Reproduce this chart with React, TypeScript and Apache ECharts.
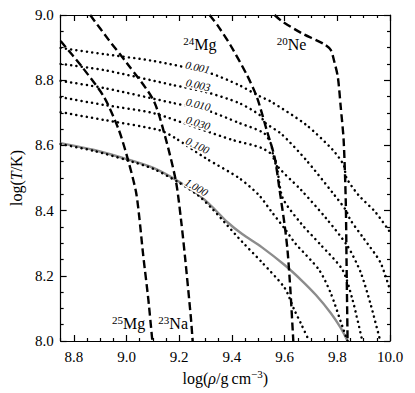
import React, { useEffect, useRef } from "react";
import * as echarts from "echarts";

// ---------- data (log rho, log T) ----------
const xMajorTicks = [8.8, 9.0, 9.2, 9.4, 9.6, 9.8, 10.0];
const xMinorTicks = [8.75, 8.85, 8.9, 8.95, 9.05, 9.1, 9.15, 9.25, 9.3, 9.35, 9.45, 9.5, 9.55, 9.65, 9.7, 9.75, 9.85, 9.9, 9.95];

// dashed: onset lines of electron captures
const mg25Line = [[8.75, 8.92], [8.832, 8.84], [8.915, 8.748], [8.971, 8.647], [9.008, 8.549], [9.038, 8.448], [9.064, 8.258], [9.083, 8.126], [9.098, 8.0]];
const na23Line = [[8.862, 9.0], [8.933, 8.923], [9.001, 8.853], [9.102, 8.739], [9.15, 8.617], [9.188, 8.488], [9.207, 8.371], [9.222, 8.258], [9.244, 8.074], [9.251, 8.0]];
const mg24Line = [[9.315, 9.0], [9.345, 8.969], [9.394, 8.908], [9.457, 8.816], [9.495, 8.748], [9.532, 8.647], [9.562, 8.564], [9.581, 8.463], [9.6, 8.356], [9.611, 8.279], [9.622, 8.156], [9.633, 8.0]];
const ne20Line = [[9.562, 9.0], [9.588, 8.982], [9.663, 8.945], [9.749, 8.911], [9.775, 8.893], [9.787, 8.862], [9.802, 8.81], [9.813, 8.718], [9.824, 8.617], [9.832, 8.433], [9.835, 8.248], [9.839, 8.0]];

// dotted: contours
const c0001 = [[8.75, 8.899], [8.915, 8.88], [9.102, 8.859], [9.315, 8.822], [9.427, 8.785], [9.495, 8.755], [9.551, 8.733], [9.682, 8.663], [9.783, 8.586], [9.824, 8.54], [9.835, 8.5], [9.88, 8.448], [9.944, 8.396], [10.0, 8.334]];
const c0003 = [[8.75, 8.85], [8.915, 8.831], [9.177, 8.785], [9.3, 8.764], [9.427, 8.73], [9.506, 8.693], [9.525, 8.67], [9.588, 8.635], [9.682, 8.555], [9.783, 8.454], [9.832, 8.402], [9.85, 8.371], [9.899, 8.316], [9.963, 8.242], [10.0, 8.156]];
const c0010 = [[8.75, 8.798], [8.915, 8.776], [9.177, 8.73], [9.3, 8.709], [9.427, 8.669], [9.521, 8.638], [9.548, 8.605], [9.565, 8.545], [9.663, 8.463], [9.757, 8.377], [9.839, 8.291], [9.888, 8.212], [9.925, 8.117], [9.963, 8.0]];
const c0030 = [[8.75, 8.748], [8.915, 8.724], [9.102, 8.699], [9.27, 8.653], [9.401, 8.617], [9.513, 8.592], [9.562, 8.562], [9.592, 8.44], [9.663, 8.36], [9.738, 8.294], [9.82, 8.218], [9.858, 8.126], [9.895, 8.0]];
const c0100 = [[8.75, 8.702], [8.915, 8.678], [9.124, 8.647], [9.184, 8.623], [9.3, 8.561], [9.427, 8.5], [9.502, 8.448], [9.551, 8.396], [9.6, 8.345], [9.64, 8.3], [9.731, 8.218], [9.775, 8.147], [9.82, 8.043], [9.839, 8.0]];
const c1000 = [[8.75, 8.604], [8.877, 8.583], [9.001, 8.555], [9.102, 8.528], [9.195, 8.488], [9.27, 8.448], [9.326, 8.405], [9.382, 8.355], [9.439, 8.304], [9.513, 8.242], [9.6, 8.163], [9.637, 8.095], [9.663, 8.052], [9.693, 8.0]];

// grey solid curve
const greyLine = [[8.75, 8.607], [8.877, 8.586], [9.001, 8.558], [9.102, 8.531], [9.195, 8.491], [9.27, 8.451], [9.326, 8.411], [9.382, 8.365], [9.439, 8.328], [9.513, 8.288], [9.6, 8.233], [9.663, 8.187], [9.719, 8.141], [9.775, 8.086], [9.813, 8.04], [9.839, 8.0]];

// contour label texts and anchors
const contourLabels = ["0.001", "0.003", "0.010", "0.030", "0.100", "1.000"];
const contourLabelAt = [[9.27, 8.84], [9.272, 8.786], [9.272, 8.726], [9.272, 8.669], [9.27, 8.6], [9.266, 8.472]];
const contourLabelAngle = [-13, -13, -14, -17, -26, -30];

// species labels
const speciesMass = ["24", "20", "25", "23"];
const speciesElem = ["Mg", "Ne", "Mg", "Na"];
const speciesAt = [[9.278, 8.911], [9.626, 8.911], [9.008, 8.055], [9.177, 8.055]];

const FONT = "Liberation Serif";

export default function App() {
  const ref = useRef<HTMLDivElement>(null);
  useEffect(() => {
    if (!ref.current) return;
    const chart = echarts.init(ref.current, null, { renderer: "svg" });
    const dashed = { color: "#000", width: 2.4, type: [8, 4] as any };
    const dotted = { color: "#000", width: 2.5, type: [0.1, 5.2] as any, cap: "round" as any };
    const lineSeries = (data: number[][], ls: any, z = 2) => ({
      type: "line",
      data,
      showSymbol: false,
      symbol: "none",
      smooth: 0.25,
      lineStyle: ls,
      silent: true,
      z,
    });
    const textStyleBase = { fontFamily: FONT, color: "#000" };
    const tickStyle = { color: "#000", width: 1.2 };
    const option: any = {
      animation: false,
      grid: { left: 56, top: 15, right: 25, bottom: 52, containLabel: false },
      xAxis: [
        {
          type: "value", min: 8.75, max: 10, position: "bottom",
          axisLine: { show: true, onZero: false, lineStyle: { color: "#000", width: 1.2 } },
          axisTick: { show: true, inside: true, length: 6, customValues: xMajorTicks, lineStyle: tickStyle },
          axisLabel: { customValues: xMajorTicks, formatter: (v: number) => v.toFixed(1), ...textStyleBase, fontSize: 15, margin: 8 },
          splitLine: { show: false },
          name: "log({i|ρ}/g\u2009cm{s|−3})",
          nameLocation: "middle",
          nameGap: 24,
          nameTextStyle: {
            ...textStyleBase, fontSize: 16,
            rich: {
              i: { fontFamily: FONT, fontStyle: "italic", fontSize: 16, color: "#000" },
              s: { fontFamily: FONT, fontSize: 11, color: "#000", padding: [0, 0, 8, 0] },
            },
          },
        },
        {
          type: "value", min: 8.75, max: 10, position: "bottom",
          axisLine: { show: false, onZero: false },
          axisTick: { show: true, inside: true, length: 3, customValues: xMinorTicks, lineStyle: tickStyle },
          axisLabel: { show: false },
          splitLine: { show: false },
        },
        {
          type: "value", min: 8.75, max: 10, position: "top",
          axisLine: { show: true, onZero: false, lineStyle: { color: "#000", width: 1.2 } },
          axisTick: { show: true, inside: true, length: 6, customValues: xMajorTicks, lineStyle: tickStyle },
          axisLabel: { show: false },
          splitLine: { show: false },
        },
        {
          type: "value", min: 8.75, max: 10, position: "top",
          axisLine: { show: false, onZero: false },
          axisTick: { show: true, inside: true, length: 3, customValues: xMinorTicks, lineStyle: tickStyle },
          axisLabel: { show: false },
          splitLine: { show: false },
        },
      ],
      yAxis: [
        {
          type: "value", min: 8, max: 9, interval: 0.2, position: "left",
          axisLine: { show: true, onZero: false, lineStyle: { color: "#000", width: 1.2 } },
          axisTick: { show: true, inside: true, length: 6, lineStyle: tickStyle },
          minorTick: { show: true, splitNumber: 4, length: 3, lineStyle: tickStyle },
          axisLabel: { formatter: (v: number) => v.toFixed(1), ...textStyleBase, fontSize: 15, margin: 7 },
          splitLine: { show: false },
          name: "log({i|T}/K)",
          nameLocation: "middle",
          nameRotate: 90,
          nameGap: 28,
          nameTextStyle: {
            ...textStyleBase, fontSize: 16,
            rich: { i: { fontFamily: FONT, fontStyle: "italic", fontSize: 16, color: "#000" } },
          },
        },
        {
          type: "value", min: 8, max: 9, interval: 0.2, position: "right",
          axisLine: { show: true, onZero: false, lineStyle: { color: "#000", width: 1.2 } },
          axisTick: { show: true, inside: true, length: 6, lineStyle: tickStyle },
          minorTick: { show: true, splitNumber: 4, length: 3, lineStyle: tickStyle },
          axisLabel: { show: false },
          splitLine: { show: false },
        },
      ],
      series: [
        lineSeries(greyLine, { color: "#8c8c8c", width: 2.4, type: "solid" }, 1),
        lineSeries(c0001, dotted),
        lineSeries(c0003, dotted),
        lineSeries(c0010, dotted),
        lineSeries(c0030, dotted),
        lineSeries(c0100, dotted),
        lineSeries(c1000, dotted),
        lineSeries(mg25Line, dashed, 3),
        lineSeries(na23Line, dashed, 3),
        lineSeries(mg24Line, dashed, 3),
        lineSeries(ne20Line, dashed, 3),
        {
          type: "scatter",
          z: 6,
          silent: true,
          symbolSize: 1,
          itemStyle: { color: "rgba(0,0,0,0)", opacity: 1 },
          data: contourLabels.map((t, i) => ({
            value: contourLabelAt[i],
            label: { formatter: t, rotate: contourLabelAngle[i] },
          })),
          label: {
            show: true, position: "inside", fontFamily: FONT, fontStyle: "italic", fontSize: 11,
            color: "#000", textBorderWidth: 0, backgroundColor: "#fff", padding: [0, 1],
          },
        },
        {
          type: "scatter",
          z: 6,
          silent: true,
          symbolSize: 1,
          itemStyle: { color: "rgba(0,0,0,0)", opacity: 1 },
          data: speciesMass.map((m, i) => ({
            value: speciesAt[i],
            label: { formatter: `{s|${m}}{e|${speciesElem[i]}}` },
          })),
          label: {
            show: true, position: "inside", color: "#000", textBorderWidth: 0,
            rich: {
              s: { fontFamily: FONT, fontSize: 11, color: "#000", padding: [0, 0, 7, 0] },
              e: { fontFamily: FONT, fontSize: 16, color: "#000" },
            },
          },
        },
      ],
    };
    chart.setOption(option);
    return () => chart.dispose();
  }, []);
  return <div ref={ref} style={{ width: 415, height: 393, position: "absolute", left: 0, top: 0, background: "#fff" }} />;
}
